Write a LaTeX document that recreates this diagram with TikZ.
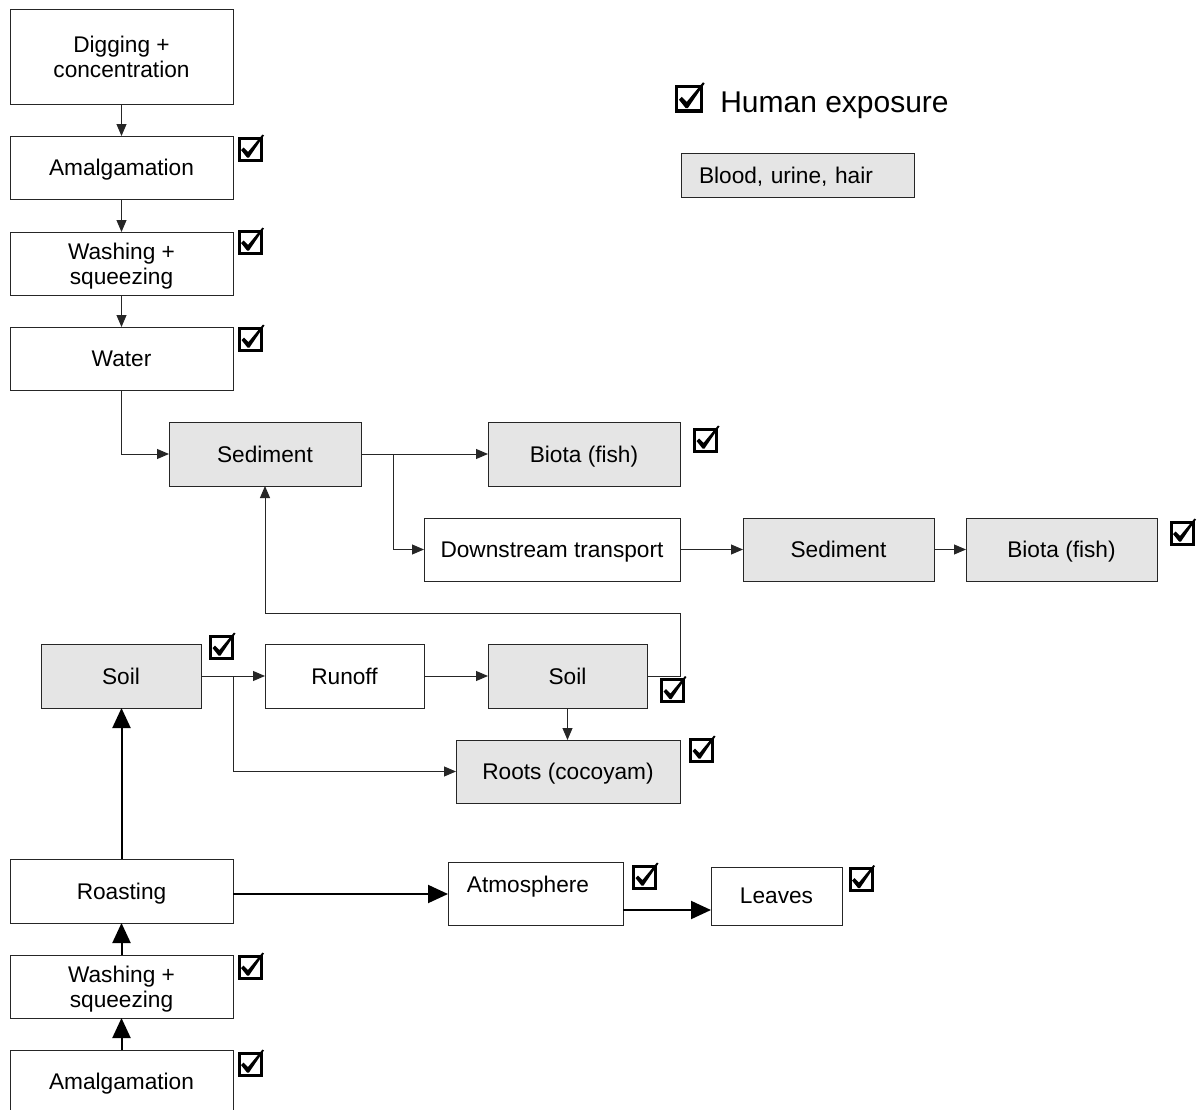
\documentclass[tikz,border=0pt]{standalone}
\usepackage{fontspec}
\setmainfont{Liberation Sans}
\usetikzlibrary{arrows.meta,calc}
\newcommand\bx[7]{\node[#1, minimum width={(#5-#3)*0.75pt}, minimum height={(#6-#4)*0.75pt}] (#2) at (#3,#4) {#7};}
\newcommand\chk[4][1]{%
  \node[chkbox, minimum size={#1*16.5pt}, line width={#1*2.25pt}] (#2) at (#3,#4) {};
  \fill[black, shift={(#2.center)}, scale=#1] (-9,1) -- (-6.5,-1.5) -- (-2,3) -- (12.5,-14.5) -- (14,-13.5) -- (-1,8.5) -- (-3,8.5) -- cycle;
}
\begin{document}
\begin{tikzpicture}[x=0.75pt,y=-0.75pt,
  box/.style={draw=black!85, line width=0.75pt, fill=white, inner sep=0pt, outer sep=0pt, align=center, anchor=north west, text depth=0pt, font=\fontsize{17}{19}\selectfont},
  gbox/.style={box, fill=black!10},
  thinarr/.style={draw=black!85, line width=0.75pt, -{Triangle[length=9pt,width=7.5pt]}},
  thickarr/.style={draw=black, line width=1.5pt, -{Triangle[length=15pt,width=13.5pt]}},
  chkbox/.style={draw=black, inner sep=0pt, outer sep=0pt},
  txt/.style={inner sep=0pt, text depth=0pt, font=\fontsize{17}{19}\selectfont},
]
\useasboundingbox (0,0) rectangle (1197,1110);
\fill[white] (0,0) rectangle (1197,1110);
\clip (0,0) rectangle (1197,1110);

% left column top
\bx{box}{dig}{10}{9}{233}{104}{Digging +\\concentration}
\bx{box}{amal1}{10}{136}{233}{199}{Amalgamation}
\bx{box}{wash1}{10}{232}{233}{295}{Washing +\\squeezing}
\bx{box}{water}{10}{327}{233}{390}{Water}

% sediment row
\bx{gbox}{sed1}{169}{422}{361}{486}{Sediment}
\bx{gbox}{bio1}{488}{422}{680}{486}{Biota (fish)}
\bx{box}{down}{424}{518}{680}{581}{Downstream transport}
\bx{gbox}{sed2}{743}{518}{934}{581}{Sediment}
\bx{gbox}{bio2}{966}{518}{1157}{581}{Biota (fish)}

% soil row
\bx{gbox}{soil1}{41}{644}{201}{708}{Soil}
\bx{box}{run}{265}{644}{424}{708}{Runoff}
\bx{gbox}{soil2}{488}{644}{647}{708}{Soil}
\bx{gbox}{roots}{456}{740}{680}{803}{Roots (cocoyam)}

% bottom
\bx{box}{roast}{10}{859}{233}{923}{Roasting}
\bx{box}{atm}{448}{862}{623}{925}{}
\node[txt] (atmtext) at (528,884) {Atmosphere};
\bx{box}{leaves}{711}{867}{842}{925}{Leaves}
\bx{box}{wash2}{10}{955}{233}{1018}{Washing +\\squeezing}
\bx{box}{amal2}{10}{1050}{233}{1113}{Amalgamation}

% legend
\chk[1.12]{lchk}{689}{98.5}
\node[inner sep=0pt, anchor=base west, font=\fontsize{22.5}{26}\selectfont] (ltext) at (720,112) {Human exposure};
\node[gbox, minimum height=33pt, inner xsep=13.5pt, text width=147.75pt, align=left] (lbox) at (681,153) {Blood, urine, hair};

% check marks
\chk{c1}{250}{149}
\chk{c2}{250}{242}
\chk{c3}{250.5}{339}
\chk{c4}{705.5}{440}
\chk{c5}{1182}{533}
\chk{c6}{221.5}{647}
\chk{c7}{672.5}{690.5}
\chk{c8}{701.5}{750}
\chk{c9}{644.5}{877}
\chk{c10}{861}{879.5}
\chk{c11}{250}{967}
\chk{c12}{250}{1064}

% connectors
\draw[thinarr] (dig.south) -- (amal1.north);
\draw[thinarr] (amal1.south) -- (wash1.north);
\draw[thinarr] (wash1.south) -- (water.north);
\draw[thinarr] (water.south) |- (sed1.west);
\draw[thinarr] (sed1.east) -- (bio1.west);
\coordinate (br1) at ($(sed1.east)+(32,0)$);
\draw[thinarr] (br1) |- (down.west);
\draw[thinarr] (down.east) -- (sed2.west);
\draw[thinarr] (sed2.east) -- (bio2.west);
\coordinate (loop) at (680,613);
\draw[thinarr] (soil2.east) -| (loop) -| (sed1.south);
\draw[thinarr] (soil1.east) -- (run.west);
\coordinate (br2) at ($(soil1.east)+(32,0)$);
\draw[thinarr] (br2) |- (roots.west);
\draw[thinarr] (run.east) -- (soil2.west);
\draw[thinarr] (soil2.south) -- (soil2.south |- roots.north);

\coordinate (y894) at (0,894);
\coordinate (y910) at (0,910);
\draw[thickarr] (roast.north) -- (roast.north |- soil1.south);
\draw[thickarr] (roast.east |- y894) -- (atm.west |- y894);
\draw[thickarr] (atm.east |- y910) -- (leaves.west |- y910);
\draw[thickarr] (wash2.north) -- (roast.south);
\draw[thickarr] (amal2.north) -- (wash2.south);
\end{tikzpicture}
\end{document}
